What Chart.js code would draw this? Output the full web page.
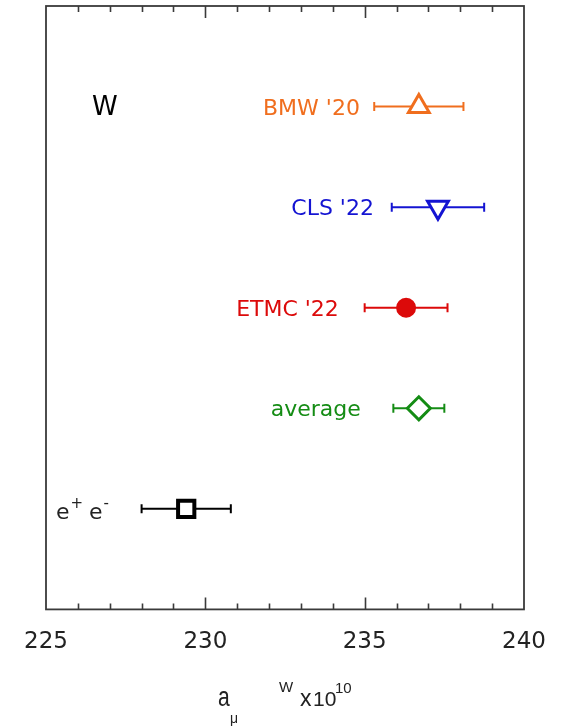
<!DOCTYPE html>
<html><head><meta charset="utf-8">
<script src="https://cdn.jsdelivr.net/npm/chart.js@4"></script>
<style>html,body{margin:0;padding:0;background:#fff}#wrap{width:569px;height:727px}</style>
</head><body><div id="wrap"><canvas id="c" width="569" height="727"></canvas></div>
<script>
// ---- data ----
const categories = ["BMW '20", "CLS '22", "ETMC '22", "average", "e+ e-"];
const centralValues = [236.7, 237.3, 236.3, 236.7, 229.4];
const errors = [1.4, 1.45, 1.3, 0.8, 1.4];
const rows = [5, 4, 3, 2, 1];
const xTickValues = [225, 230, 235, 240];
const xMin = 225, xMax = 240;

// ---- styles ----
const colors = ['#f06e1e', '#1414d2', '#dc0a0a', '#148c14', '#000000'];
const markerStyles = ['triangle', 'triangle', 'circle', 'rectRot', 'rect'];
const markerRotation = [0, 180, 0, 0, 0];
const markerRadius = [12, 12, 9, 11.5, 11.5];
const markerFilled = [false, false, true, false, false];
const markerBorder = [3, 3, 2, 3, 4];
// label anchors (right edge, in x units) for the text labels
const labelAnchor = [234.85, 235.29, 234.19, 234.88, 225.31];

const datasets = [];
categories.forEach((name, i) => {
  datasets.push({
    type: 'line', label: name + ' err', order: 2,
    data: [{x: centralValues[i] - errors[i], y: rows[i]}, {x: centralValues[i] + errors[i], y: rows[i]}],
    borderColor: colors[i], borderWidth: 2, showLine: true, fill: false,
    pointStyle: 'line', pointRotation: 90, pointRadius: 4.5, pointBorderWidth: 2,
    pointBorderColor: colors[i], pointHoverRadius: 4.5
  });
  datasets.push({
    type: 'scatter', label: name, order: 1,
    data: [{x: centralValues[i], y: rows[i]}],
    pointStyle: markerStyles[i], rotation: markerRotation[i], pointRotation: markerRotation[i],
    pointRadius: markerRadius[i], pointHoverRadius: markerRadius[i],
    backgroundColor: markerFilled[i] ? colors[i] : '#ffffff',
    borderColor: colors[i], borderWidth: markerBorder[i], pointBorderWidth: markerBorder[i]
  });
});

const FONT = '"DejaVu Sans", sans-serif';
const TFONT = '"Liberation Sans", sans-serif';

const decor = {
  id: 'decor',
  afterDraw(chart) {
    const ctx = chart.ctx, a = chart.chartArea, xs = chart.scales.x, ys = chart.scales.y;
    ctx.save();
    // frame
    ctx.strokeStyle = '#3a3a3a'; ctx.lineWidth = 1.8;
    ctx.strokeRect(a.left, a.top, a.right - a.left, a.bottom - a.top);
    // inward ticks top & bottom
    ctx.lineWidth = 1.6;
    for (let v = xMin + 1; v < xMax; v++) {
      const px = Math.round(xs.getPixelForValue(v)) + 0.5;
      const len = (v % 5 === 0) ? 12 : 6;
      ctx.beginPath();
      ctx.moveTo(px, a.bottom); ctx.lineTo(px, a.bottom - len);
      ctx.moveTo(px, a.top); ctx.lineTo(px, a.top + len);
      ctx.stroke();
    }
    // series labels
    ctx.font = '22px ' + FONT;
    ctx.textBaseline = 'alphabetic';
    categories.forEach((name, i) => {
      const y = ys.getPixelForValue(rows[i]) + 8;
      ctx.fillStyle = colors[i];
      const x = xs.getPixelForValue(labelAnchor[i]);
      if (i < 4) {
        ctx.textAlign = 'right';
        ctx.fillText(name, x, y);
      } else {
        ctx.fillStyle = '#222';
        ctx.textAlign = 'left';
        let cx = x;
        ctx.font = '22px ' + FONT; ctx.fillText('e', cx, y + 2); cx += ctx.measureText('e').width + 1;
        ctx.font = '15px ' + FONT; ctx.fillText('+', cx, y - 9); cx += ctx.measureText('+').width + 6;
        ctx.font = '22px ' + FONT; ctx.fillText('e', cx, y + 2); cx += ctx.measureText('e').width + 1;
        ctx.font = '15px ' + FONT; ctx.fillText('-', cx, y - 9);
      }
    });
    // panel label
    ctx.fillStyle = '#000'; ctx.textAlign = 'left';
    ctx.font = '26px ' + FONT;
    ctx.fillText('W', xs.getPixelForValue(226.44), ys.getPixelForValue(5) + 8);
    // axis title  a_mu^W x 10^10
    const cxm = (a.left + a.right) / 2;
    const base = a.bottom + 97;
    ctx.fillStyle = '#222';
    const tx = cxm - 67;
    ctx.save();
    ctx.translate(tx, base); ctx.scale(0.78, 1);
    ctx.font = '27px ' + TFONT; ctx.fillText('a', 0, 0);
    ctx.restore();
    ctx.font = '14px ' + TFONT; ctx.fillText('μ', tx + 12, base + 17);
    ctx.font = '15px ' + TFONT; ctx.fillText('W', tx + 61, base - 14);
    ctx.font = '23px ' + TFONT; ctx.fillText('x', tx + 82, base);
    ctx.font = '21px ' + TFONT; ctx.fillText('10', tx + 95, base);
    ctx.font = '15px ' + TFONT; ctx.fillText('10', tx + 117, base - 13);
    ctx.restore();
  }
};

new Chart(document.getElementById('c'), {
  data: { datasets },
  options: {
    responsive: false, animation: false, devicePixelRatio: 1,
    layout: { autoPadding: false, padding: { left: 46, right: 45, top: 6, bottom: 52 } },
    plugins: { legend: { display: false }, tooltip: { enabled: false }, title: { display: false } },
    scales: {
      x: {
        type: 'linear', min: xMin, max: xMax,
        afterBuildTicks: s => { s.ticks = xTickValues.map(v => ({ value: v })); },
        grid: { display: false, drawTicks: false },
        border: { display: false },
        ticks: { font: { family: FONT, size: 23 }, color: '#222', padding: 19, maxRotation: 0, autoSkip: false }
      },
      y: { type: 'linear', min: 0, max: 6, display: false }
    }
  },
  plugins: [decor]
});
</script></body></html>
